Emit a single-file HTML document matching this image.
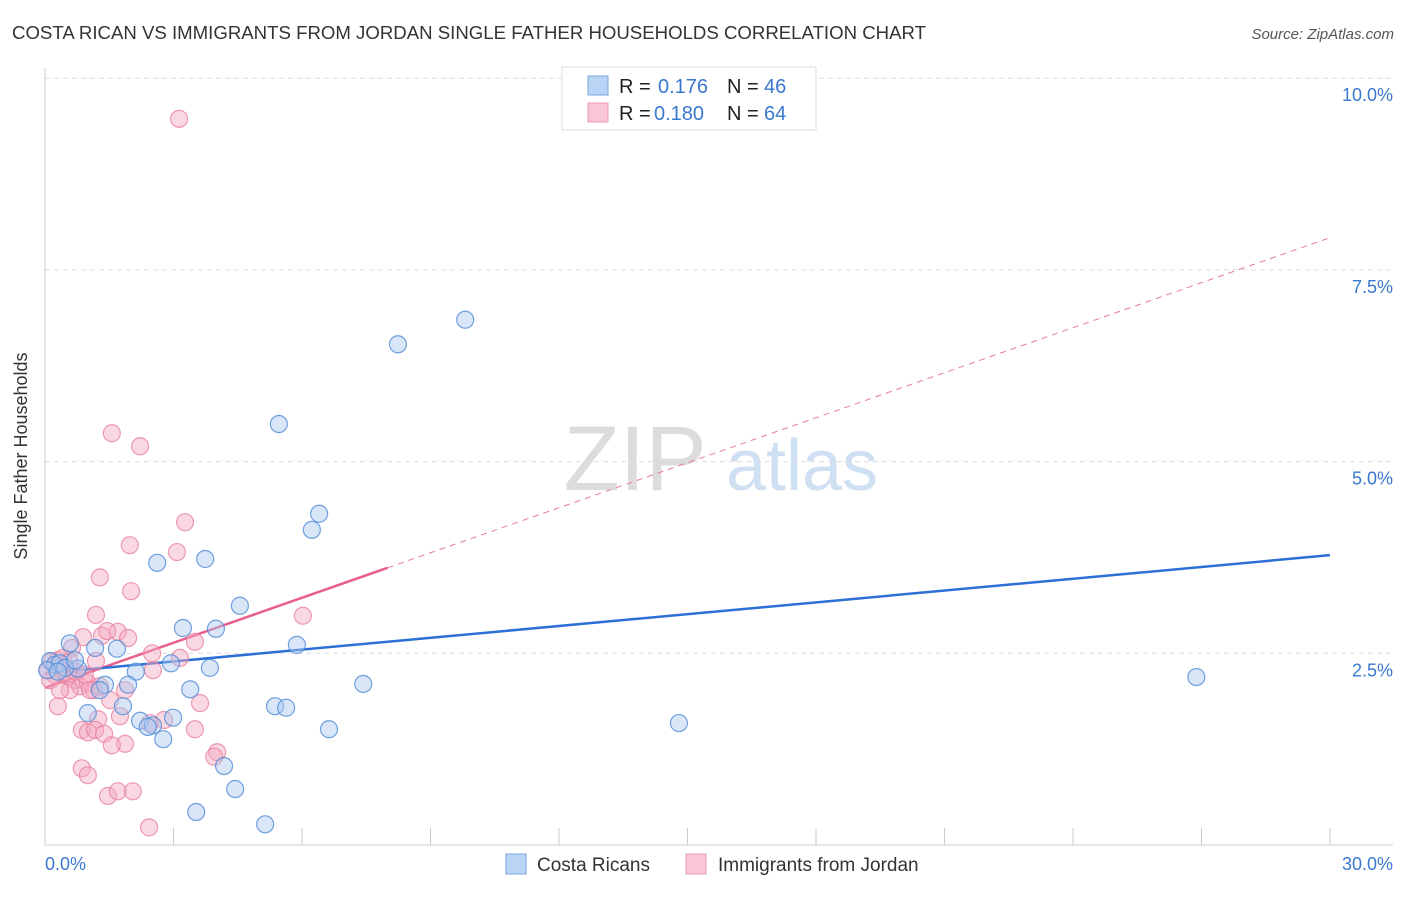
<!DOCTYPE html>
<html><head><meta charset="utf-8"><style>
body{margin:0;background:#fff;font-family:"Liberation Sans",sans-serif;}
svg text{font-family:"Liberation Sans",sans-serif;}
</style></head><body>
<svg id="chart" width="1406" height="892" xmlns="http://www.w3.org/2000/svg">
<text x="12" y="39" font-size="18" fill="#333" textLength="914" lengthAdjust="spacingAndGlyphs">COSTA RICAN VS IMMIGRANTS FROM JORDAN SINGLE FATHER HOUSEHOLDS CORRELATION CHART</text>
<text x="1394" y="39" font-size="15" fill="#555" font-style="italic" text-anchor="end">Source: ZipAtlas.com</text>
<text x="27" y="456" font-size="18" fill="#333" text-anchor="middle" transform="rotate(-90 27 456)">Single Father Households</text>
<g><text x="635" y="490" font-size="92" fill="#dcdcdc" font-family="Liberation Serif" text-anchor="middle">ZIP</text><text x="802" y="490" font-size="72" fill="#cfe0f3" text-anchor="middle">atlas</text></g>
<g id="grid"></g><g id="axes"></g><g id="lines"></g><g id="pts"></g>
<g>
<rect x="562" y="67" width="254" height="63" fill="#fff" stroke="#ddd"/>
<rect x="588" y="76" width="20" height="19" fill="#b9d4f5" stroke="#7aa9e0"/>
<rect x="588" y="103" width="20" height="19" fill="#f9c6d5" stroke="#ee9ab4"/>
<text x="619" y="93" font-size="20" fill="#222">R = </text><text x="658" y="93" font-size="20" fill="#3a78d0">0.176</text>
<text x="727" y="93" font-size="20" fill="#222">N = </text><text x="764" y="93" font-size="20" fill="#3a78d0">46</text>
<text x="619" y="120" font-size="20" fill="#222">R = </text><text x="654" y="120" font-size="20" fill="#3a78d0">0.180</text>
<text x="727" y="120" font-size="20" fill="#222">N = </text><text x="764" y="120" font-size="20" fill="#3a78d0">64</text>
</g>
<g>
<rect x="506" y="854" width="20" height="20" fill="#b9d4f5" stroke="#7aa9e0"/>
<text x="537" y="871" font-size="19" fill="#333">Costa Ricans</text>
<rect x="686" y="854" width="20" height="20" fill="#f9c6d5" stroke="#ee9ab4"/>
<text x="718" y="871" font-size="19" fill="#333">Immigrants from Jordan</text>
</g>
</svg>
<script>
const yTicks=[2.5,5,7.5,10];
const yTickLabels=["2.5%","5.0%","7.5%","10.0%"];
const xTicks=[0,3,6,9,12,15,18,21,24,27,30];
const blueX=[8.24,9.81,5.46,6.40,6.23,2.62,3.74,4.55,3.22,3.99,5.88,1.68,0.58,1.17,2.94,3.85,2.12,0.77,1.40,1.94,3.39,7.43,1.28,1.82,5.37,5.63,1.00,2.22,2.52,2.99,2.40,2.76,6.63,4.18,4.44,3.53,5.14,14.80,26.88,0.12,0.23,0.35,0.05,0.47,0.30,0.70];
const blueY=[6.53,6.85,5.49,4.32,4.11,3.68,3.73,3.12,2.83,2.82,2.61,2.56,2.63,2.57,2.37,2.31,2.26,2.30,2.09,2.09,2.03,2.10,2.02,1.81,1.81,1.79,1.72,1.62,1.56,1.66,1.54,1.38,1.51,1.03,0.73,0.43,0.27,1.59,2.19,2.40,2.35,2.37,2.28,2.31,2.26,2.41];
const pinkX=[3.13,1.56,2.22,3.27,1.98,3.08,1.28,2.01,1.19,6.02,0.89,1.33,1.70,1.94,1.45,3.50,2.50,1.19,3.15,0.63,2.52,0.35,0.47,0.70,0.82,1.00,1.14,1.28,0.23,0.12,0.54,1.87,1.24,3.62,1.75,0.86,1.00,1.17,1.38,3.50,1.87,0.30,4.02,3.95,0.86,1.00,1.47,1.70,2.05,2.43,2.78,0.07,0.16,0.30,0.42,0.58,0.72,0.93,1.05,1.52,2.45,1.56,0.58,0.35];
const pinkY=[9.47,5.37,5.20,4.21,3.91,3.82,3.49,3.31,3.00,2.99,2.71,2.73,2.78,2.70,2.79,2.65,2.50,2.40,2.44,2.57,2.28,2.35,2.26,2.15,2.07,2.11,2.02,2.07,2.22,2.15,2.20,2.02,1.64,1.85,1.68,1.50,1.47,1.50,1.45,1.51,1.32,1.81,1.21,1.15,1.00,0.91,0.64,0.70,0.70,0.23,1.63,2.28,2.39,2.41,2.44,2.39,2.26,2.22,2.02,1.89,1.59,1.30,2.02,2.02];
const blueTrend=[2.24,3.78];
const pinkTrend=[2.05,7.92];
const pinkSolidEnd=8.0;
const NS="http://www.w3.org/2000/svg";
const X=v=>45+v/30*1285;
const Y=v=>845-v/2.5*191.7;
function mk(tag,attrs,parent){const e=document.createElementNS(NS,tag);for(const k in attrs)e.setAttribute(k,attrs[k]);document.getElementById(parent).appendChild(e);return e;}
yTicks.forEach((t,i)=>{
 const g=mk('line',{x1:45,x2:1393,y1:Y(t),y2:Y(t),stroke:'#ddd','stroke-dasharray':'5,4'},'grid');
 
 
 const l=mk('text',{x:1393,y:Y(t)+23,'font-size':18,fill:'#3a78d0','text-anchor':'end'},'grid');
 l.textContent=yTickLabels[i];
 
 
});
const ax=mk('line',{x1:45,x2:1393,y1:845,y2:845,stroke:'#ccc'},'axes');


const ay=mk('line',{x1:45,x2:45,y1:68,y2:845,stroke:'#ccc'},'axes');


xTicks.forEach(t=>{
 const tk=mk('line',{x1:X(t),x2:X(t),y1:828,y2:845,stroke:'#ccc'},'axes');
 
 
});
[[0,'0.0%','start',45],[30,'30.0%','end',1393]].forEach(a=>{
 const t=mk('text',{x:a[3],y:870,'font-size':18,fill:'#3a78d0','text-anchor':a[2]},'axes');
 t.textContent=a[1];
 
 
});
function pts(xs,ys,fill,stroke,name){
 xs.forEach((x,i)=>{
  const c=mk('circle',{cx:X(x),cy:Y(ys[i]),r:8.5,fill:fill,'fill-opacity':0.45,stroke:stroke,'stroke-opacity':0.8,'stroke-width':1.2},'pts');
  
  
 });
}
pts(pinkX,pinkY,'#f5a9c0','#e9829f','point-jordan');
pts(blueX,blueY,'#a9c8f0','#4f8ad6','point-costa-rican');
const pd=mk('line',{x1:X(0),y1:Y(pinkTrend[0]),x2:X(30),y2:Y(pinkTrend[1]),stroke:'#e57a9a','stroke-width':1,'stroke-dasharray':'6,5'},'lines');


const ps=mk('line',{x1:X(0),y1:Y(pinkTrend[0]),x2:X(pinkSolidEnd),y2:Y(pinkTrend[0]+(pinkTrend[1]-pinkTrend[0])*pinkSolidEnd/30),stroke:'#e8608a','stroke-width':2.5},'lines');


const bl=mk('line',{x1:X(0),y1:Y(blueTrend[0]),x2:X(30),y2:Y(blueTrend[1]),stroke:'#2c6fd6','stroke-width':2.5},'lines');


</script>
</body></html>
